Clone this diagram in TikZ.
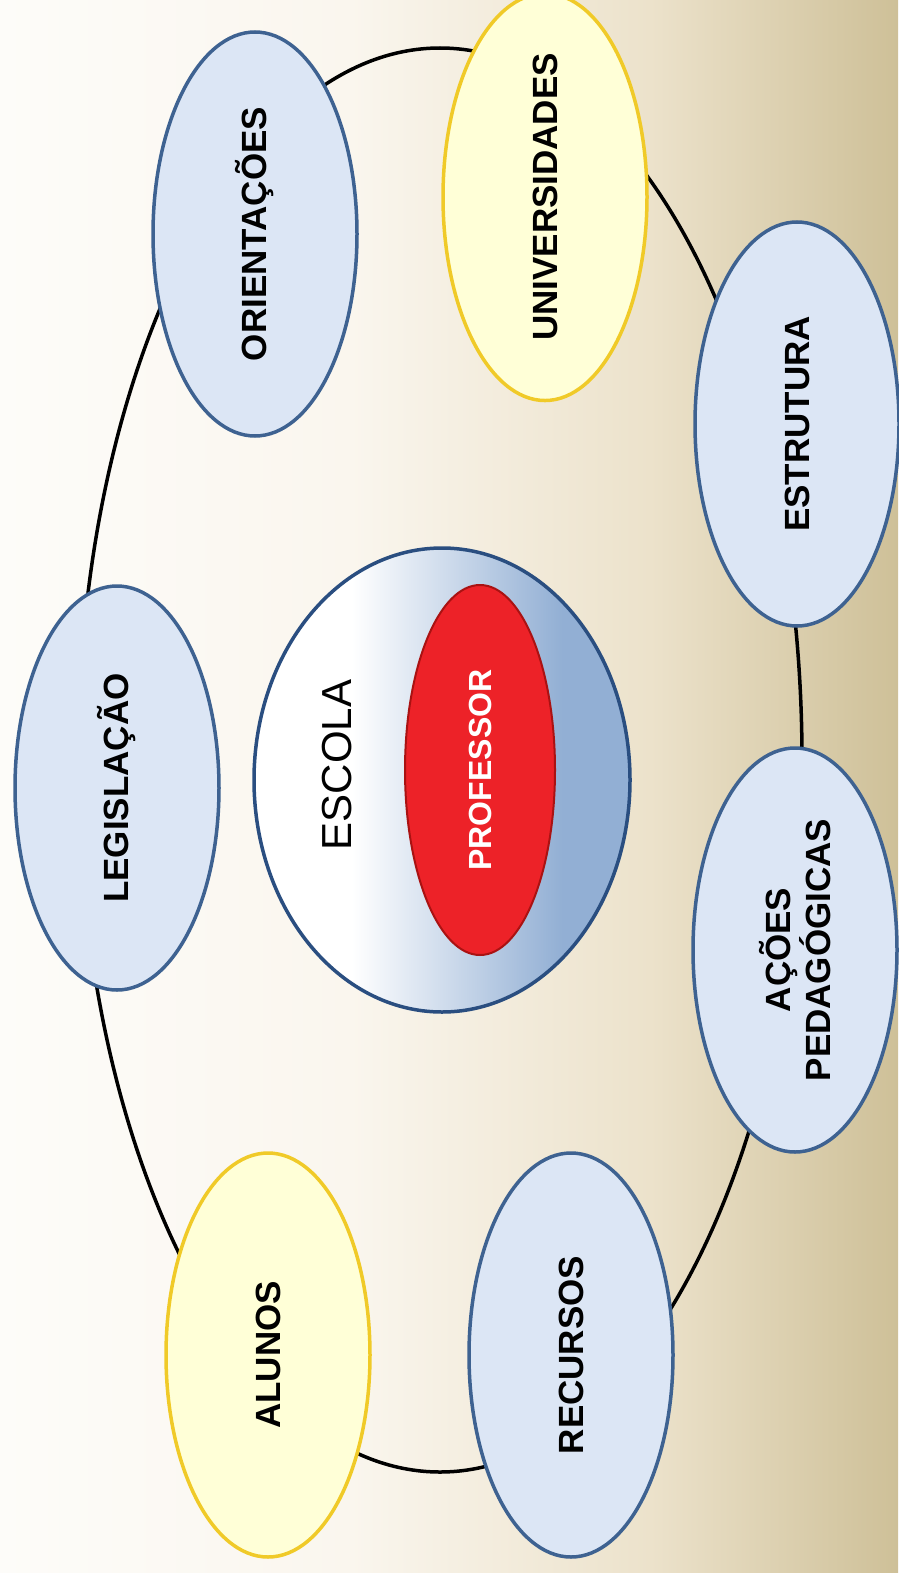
\documentclass[tikz,border=0pt]{standalone}
\usepackage{fontspec}
\setmainfont{Liberation Sans}
\usetikzlibrary{shapes.geometric}

\definecolor{azulfundo}{RGB}{220,230,245}
\definecolor{azulborda}{RGB}{62,98,145}
\definecolor{amarelofundo}{RGB}{255,255,215}
\definecolor{amareloborda}{RGB}{240,202,40}
\definecolor{escolaazul}{RGB}{146,175,212}
\definecolor{escolaborda}{RGB}{42,78,128}
\definecolor{vermelho}{RGB}{237,34,40}
\definecolor{vermelhoborda}{RGB}{170,18,18}
\definecolor{fundoA}{RGB}{253,252,249}
\definecolor{fundoB}{RGB}{250,246,238}
\definecolor{fundoC}{RGB}{236,226,203}
\definecolor{fundoD}{RGB}{206,192,152}

\pgfdeclarehorizontalshading{fundo}{100bp}{color(0bp)=(fundoA); color(25bp)=(fundoA);
  color(44.5bp)=(fundoB); color(61.2bp)=(fundoC); color(75bp)=(fundoD); color(100bp)=(fundoD)}
\pgfdeclarehorizontalshading{escola}{100bp}{color(0bp)=(white); color(25bp)=(white);
  color(38bp)=(white); color(66bp)=(escolaazul); color(100bp)=(escolaazul)}

\begin{document}
\begin{tikzpicture}[x=1pt, y=-1pt,
  every node/.style={font=\bfseries\fontsize{35}{31}\selectfont, align=center},
  azul/.style={ellipse, draw=azulborda, fill=azulfundo, line width=3.5pt, rotate=90,
    minimum width=404pt, minimum height=204pt, inner sep=0pt},
  amarelo/.style={azul, draw=amareloborda, fill=amarelofundo}]
  % Fundo
  \shade[shading=fundo] (0,0) rectangle (898,1573);
  \useasboundingbox (0,0) rectangle (898,1573);

  % Anel
  \node[ellipse, draw, line width=3.5pt, minimum width=724pt, minimum height=1424pt] (anel) at (440,760) {};

  % Escola e professor
  \node[ellipse, draw=escolaborda, line width=3.5pt, shading=escola, minimum width=376pt, minimum height=464pt] (escola) at (442,780) {};
  \node[rotate=90, font=\fontsize{42}{44}\selectfont] (txtescola) at (337,765) {ESCOLA};
  \node[ellipse, draw=vermelhoborda, line width=2pt, fill=vermelho, text=white, rotate=90,
    minimum width=370pt, minimum height=150pt, inner sep=0pt, font=\bfseries\fontsize{32}{34}\selectfont] (prof) at (480,770) {PROFESSOR};

  % Elementos do anel
  \node[azul] (orient) at (255,234) {ORIENTAÇÕES};
  \node[amarelo, minimum width=392pt] (univ) at (545,197) {UNIVERSIDADES};
  \node[azul] (leg) at (117,788) {LEGISLAÇÃO};
  \node[azul] (estr) at (797,424) {ESTRUTURA};
  \node[azul] (acoes) at (795,950) {AÇÕES\\PEDAGÓGICAS};
  \node[amarelo] (alunos) at (268,1355) {ALUNOS};
  \node[azul] (rec) at (571,1355) {RECURSOS};
\end{tikzpicture}
\end{document}
